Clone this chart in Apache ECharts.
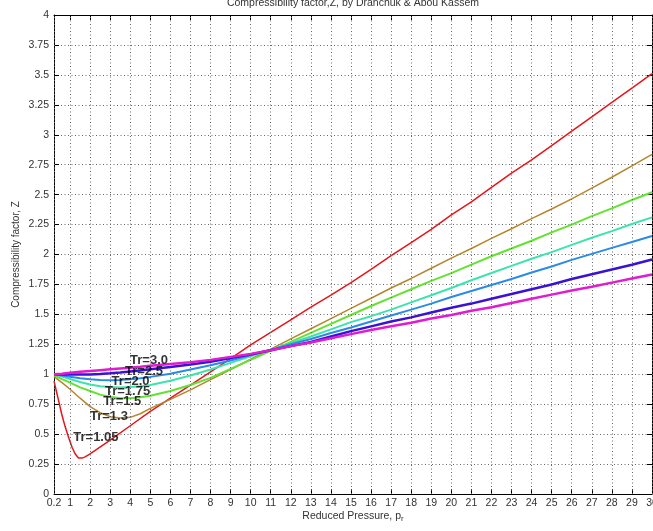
<!DOCTYPE html>
<html><head><meta charset="utf-8">
<script src="https://cdn.jsdelivr.net/npm/echarts@6/dist/echarts.min.js"></script>
<style>html,body{margin:0;padding:0;background:#fff}#c{width:653px;height:531px}</style>
</head><body><div id="c"></div>
<script>
// ---- tick values ----
const xTicks = [0.2,1,2,3,4,5,6,7,8,9,10,11,12,13,14,15,16,17,18,19,20,21,22,23,24,25,26,27,28,29,30];
const yTicks = [0,0.25,0.5,0.75,1,1.25,1.5,1.75,2,2.25,2.5,2.75,3,3.25,3.5,3.75,4];

// ---- series ----
const seriesNames = ['Tr=1.05','Tr=1.3','Tr=1.5','Tr=1.75','Tr=2.0','Tr=2.5','Tr=3.0'];

const pr105 = [0.2,0.4,0.58,0.75,0.92,1.1,1.25,1.42,1.6,1.75,2,3,4,5,6,7,8,9,10,11,12,13,14,15,16,17,18,19,20,21,22,23,24,25,26,27,28,29,30];
const z105  = [0.943,0.80,0.67,0.565,0.475,0.39,0.336,0.30,0.30,0.31,0.335,0.45,0.57,0.69,0.80,0.91,1.02,1.13,1.245,1.35,1.455,1.56,1.66,1.765,1.875,1.99,2.10,2.21,2.33,2.44,2.56,2.68,2.79,2.91,3.03,3.15,3.27,3.39,3.51];

const prStd = [0.2,0.6,1,1.5,2,2.5,3,3.5,4,4.5,5,6,7,8,9,10,11,12,13,14,15,16,17,18,19,20,21,22,23,24,25,26,27,28,29,30];
const z13  = [0.98,0.93,0.875,0.80,0.73,0.68,0.645,0.634,0.64,0.67,0.715,0.79,0.87,0.955,1.04,1.125,1.21,1.295,1.38,1.465,1.55,1.635,1.72,1.80,1.885,1.97,2.05,2.135,2.215,2.30,2.38,2.465,2.555,2.645,2.74,2.836];
const z15  = [0.99,0.96,0.93,0.89,0.86,0.83,0.812,0.80,0.80,0.808,0.82,0.86,0.91,0.97,1.045,1.12,1.195,1.27,1.345,1.42,1.495,1.57,1.64,1.71,1.78,1.845,1.915,1.985,2.05,2.115,2.185,2.25,2.32,2.385,2.455,2.52];
const z175 = [1.0,0.98,0.96,0.935,0.915,0.90,0.893,0.89,0.893,0.90,0.91,0.945,0.99,1.04,1.095,1.15,1.205,1.26,1.315,1.375,1.435,1.485,1.54,1.60,1.66,1.72,1.785,1.845,1.905,1.965,2.02,2.08,2.14,2.195,2.255,2.31];
const z20  = [1.0,0.99,0.98,0.967,0.958,0.952,0.95,0.952,0.958,0.967,0.978,1.005,1.04,1.075,1.115,1.16,1.205,1.25,1.295,1.345,1.39,1.44,1.49,1.54,1.59,1.645,1.695,1.745,1.795,1.85,1.90,1.955,2.005,2.055,2.105,2.155];
const z25  = [1.0,0.998,0.997,0.997,0.998,1.002,1.008,1.015,1.023,1.032,1.042,1.06,1.082,1.105,1.135,1.165,1.20,1.235,1.27,1.315,1.36,1.40,1.44,1.475,1.515,1.555,1.59,1.63,1.67,1.71,1.75,1.795,1.835,1.875,1.915,1.958];
const z30  = [1.0,1.005,1.012,1.02,1.027,1.034,1.041,1.048,1.055,1.062,1.07,1.085,1.10,1.12,1.145,1.17,1.20,1.235,1.265,1.30,1.335,1.37,1.40,1.43,1.465,1.495,1.53,1.56,1.595,1.63,1.665,1.70,1.73,1.765,1.80,1.833];

// ---- curve labels (anchor = left-middle of text) ----
const labelText = ['Tr=3.0','Tr=2.5','Tr=2.0','Tr=1.75','Tr=1.5','Tr=1.3','Tr=1.05'];
const labelPr   = [3.99,3.74,3.07,2.74,2.66,1.99,1.16];
const labelZ    = [1.116,1.02,0.94,0.86,0.77,0.65,0.47];

const curveX = [pr105, prStd, prStd, prStd, prStd, prStd, prStd];
const curveZ = [z105, z13, z15, z175, z20, z25, z30];
const colors = ['#e3161b','#b5862c','#63e233','#3de3ad','#2a8ae8','#3a12d6','#e01bd0'];
const widths = [1.5,1.5,2,2,2,2.5,2.5];

const zip = (a,b) => a.map((v,i) => [v,b[i]]);
const FONT = 'Liberation Sans, Arial, sans-serif';
const gridDash = {color:'#666', width:1, type:[1,2.5]};

const series = [{
  // vertical dotted grid at the custom x ticks
  type:'line', data:[], z:1, animation:false, silent:true,
  markLine:{silent:true, animation:false, symbol:['none','none'], label:{show:false},
    lineStyle:gridDash, emphasis:{disabled:true},
    data: xTicks.map(v => ({xAxis:v}))}
}];
curveX.forEach((xs,i) => series.push({
  name: seriesNames[i], type:'line', data: zip(xs, curveZ[i]),
  showSymbol:false, symbol:'none', smooth:false, animation:false,
  lineStyle:{color:colors[i], width:widths[i]}, z: 2+i
}));
series.push({
  type:'scatter', symbolSize:0, z:20, animation:false, silent:true,
  data: labelText.map((t,i)=>({value:[labelPr[i],labelZ[i]], name:t})),
  label:{show:true, position:'right', distance:0, formatter:p=>p.name,
    color:'#000', fontWeight:'bold', fontSize:13, fontFamily:FONT}
});

const chart = echarts.init(document.getElementById('c'), null, {renderer:'canvas'});
chart.setOption({
  animation:false,
  backgroundColor:'#fff',
  title:{text:'Compressibility factor,Z, by Dranchuk & Abou Kassem', left:353, top:-2, textAlign:'center', padding:0,
    textStyle:{fontSize:10.5, fontWeight:'normal', color:'#333', fontFamily:FONT}},
  grid:{left:54, right:1, top:15, bottom:37, outerBoundsMode:'none', containLabel:false},
  xAxis:[{
    type:'value', min:0.2, max:30, position:'bottom',
    name:'Reduced Pressure, p{s|r}', nameLocation:'middle', nameGap:15, nameMoveOverlap:false,
    nameTextStyle:{fontSize:10.5, color:'#333', fontFamily:FONT, rich:{s:{fontSize:8, color:'#333', fontFamily:FONT, verticalAlign:'bottom', padding:[6,0,0,0]}}},
    axisLine:{show:true, onZero:false, lineStyle:{color:'#000', width:1}},
    axisTick:{show:true, inside:true, length:5, customValues:xTicks, lineStyle:{color:'#000'}},
    axisLabel:{show:true, customValues:xTicks, margin:4, fontSize:10.5, color:'#333', fontFamily:FONT},
    splitLine:{show:false}
  },{
    type:'value', min:0.2, max:30, position:'top',
    axisLine:{show:true, onZero:false, lineStyle:{color:'#000', width:1}},
    axisTick:{show:true, inside:true, length:5, customValues:xTicks, lineStyle:{color:'#000'}},
    axisLabel:{show:false}, splitLine:{show:false}
  }],
  yAxis:[{
    type:'value', min:0, max:4, interval:0.25, position:'left',
    name:'Compressibility factor, Z', nameLocation:'middle', nameGap:33, nameMoveOverlap:false,
    nameTextStyle:{fontSize:10, color:'#333', fontFamily:FONT},
    axisLine:{show:true, onZero:false, lineStyle:{color:'#000', width:1}},
    axisTick:{show:true, inside:true, length:5, lineStyle:{color:'#000'}},
    axisLabel:{show:true, margin:5, fontSize:10.5, color:'#333', fontFamily:FONT,
      customValues:yTicks},
    splitLine:{show:true, lineStyle:gridDash}
  },{
    type:'value', min:0, max:4, interval:0.25, position:'right',
    axisLine:{show:true, onZero:false, lineStyle:{color:'#000', width:1}},
    axisTick:{show:true, inside:true, length:5, lineStyle:{color:'#000'}},
    axisLabel:{show:false}, splitLine:{show:false}
  }],
  series: series
});
</script></body></html>
